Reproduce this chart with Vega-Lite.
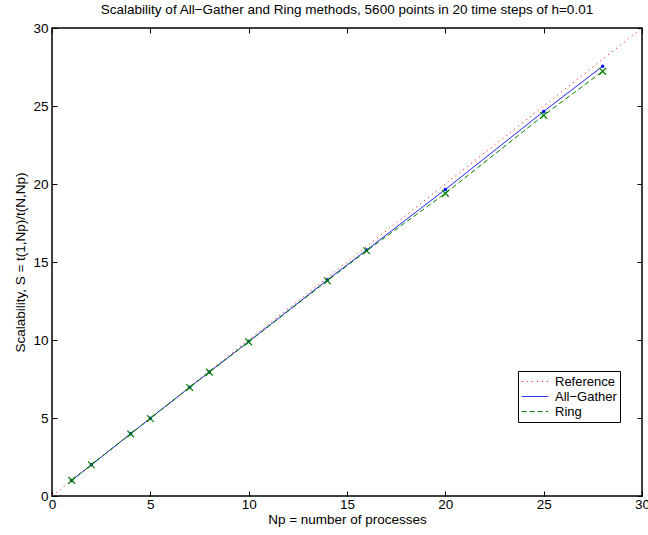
{
  "$schema": "https://vega.github.io/schema/vega-lite/v6.json",
  "autosize": "none",
  "width": 590,
  "height": 468,
  "padding": {"left": 52, "top": 28, "right": 6, "bottom": 39},
  "background": "white",
  "config": {
    "font": "Liberation Sans",
    "view": {"stroke": "black", "strokeWidth": 1.5},
    "axis": {"grid": false, "domainColor": "black", "tickColor": "black", "labelColor": "black", "titleColor": "black", "labelFontSize": 13.5, "titleFontSize": 13.5, "titleFontWeight": "normal", "labelFont": "Liberation Sans", "titleFont": "Liberation Sans"},
    "legend": {"title": null, "orient": "none", "legendX": 466, "legendY": 343, "symbolType": "stroke", "symbolSize": 700, "symbolStrokeWidth": 1, "strokeColor": "black", "fillColor": "white", "padding": 3, "labelFontSize": 13, "labelFont": "Liberation Sans", "labelColor": "black", "rowPadding": 0, "clipHeight": 15, "labelOffset": 6, "cornerRadius": 0}
  },
  "title": {"text": "Scalability of All−Gather and Ring methods, 5600 points in 20 time steps of h=0.01", "fontSize": 13.5, "fontWeight": "normal", "font": "Liberation Sans", "color": "black", "offset": 5},
  "datasets": {
    "lines": [
      {"np": 0, "s": 0, "series": "Reference"},
      {"np": 30, "s": 30, "series": "Reference"},
      {"np": 1, "s": 1.0, "series": "All−Gather"},
      {"np": 2, "s": 2.0, "series": "All−Gather"},
      {"np": 4, "s": 3.99, "series": "All−Gather"},
      {"np": 5, "s": 4.98, "series": "All−Gather"},
      {"np": 7, "s": 6.97, "series": "All−Gather"},
      {"np": 8, "s": 7.95, "series": "All−Gather"},
      {"np": 10, "s": 9.9, "series": "All−Gather"},
      {"np": 14, "s": 13.85, "series": "All−Gather"},
      {"np": 16, "s": 15.77, "series": "All−Gather"},
      {"np": 20, "s": 19.65, "series": "All−Gather"},
      {"np": 25, "s": 24.65, "series": "All−Gather"},
      {"np": 28, "s": 27.55, "series": "All−Gather"},
      {"np": 1, "s": 1.0, "series": "Ring"},
      {"np": 2, "s": 2.0, "series": "Ring"},
      {"np": 4, "s": 3.98, "series": "Ring"},
      {"np": 5, "s": 4.97, "series": "Ring"},
      {"np": 7, "s": 6.96, "series": "Ring"},
      {"np": 8, "s": 7.94, "series": "Ring"},
      {"np": 10, "s": 9.88, "series": "Ring"},
      {"np": 14, "s": 13.8, "series": "Ring"},
      {"np": 16, "s": 15.72, "series": "Ring"},
      {"np": 20, "s": 19.4, "series": "Ring"},
      {"np": 25, "s": 24.4, "series": "Ring"},
      {"np": 28, "s": 27.22, "series": "Ring"}
    ]
  },
  "resolve": {"axis": {"x": "independent", "y": "independent"}},
  "layer": [
    {
      "data": {"name": "lines"},
      "mark": {"type": "line", "strokeWidth": 1, "clip": true},
      "encoding": {
        "x": {"field": "np", "type": "quantitative", "scale": {"domain": [0, 30], "nice": false, "zero": false}, "axis": {"title": "Np = number of processes", "values": [0, 5, 10, 15, 20, 25, 30], "tickSize": -5, "labelPadding": 6, "titlePadding": 2, "domain": false, "labelFlush": false}},
        "y": {"field": "s", "type": "quantitative", "scale": {"domain": [0, 30], "nice": false, "zero": false}, "axis": {"title": "Scalability, S = t(1,Np)/t(N,Np)", "values": [0, 5, 10, 15, 20, 25, 30], "tickSize": -5, "labelPadding": 9, "titlePadding": 5, "domain": false, "labelFlush": false}},
        "color": {"field": "series", "type": "nominal", "scale": {"domain": ["Reference", "All−Gather", "Ring"], "range": ["#ff0000", "#0000ff", "#008000"]}},
        "strokeDash": {"field": "series", "type": "nominal", "scale": {"domain": ["Reference", "All−Gather", "Ring"], "range": [[1, 4], [1, 0], [5, 3]]}},
        "order": {"field": "np", "type": "quantitative"}
      }
    },
    {
      "data": {"name": "lines"},
      "transform": [{"filter": "datum.series === 'All−Gather'"}],
      "mark": {"type": "point", "filled": true, "size": 12, "color": "#0000ff", "opacity": 1},
      "encoding": {
        "x": {"field": "np", "type": "quantitative", "scale": {"domain": [0, 30], "nice": false, "zero": false}, "axis": {"orient": "top", "values": [0, 5, 10, 15, 20, 25, 30], "tickSize": -5, "labels": false, "domain": false, "title": null}},
        "y": {"field": "s", "type": "quantitative", "scale": {"domain": [0, 30], "nice": false, "zero": false}, "axis": {"orient": "right", "values": [0, 5, 10, 15, 20, 25, 30], "tickSize": -5, "labels": false, "domain": false, "title": null}}
      }
    },
    {
      "data": {"name": "lines"},
      "transform": [{"filter": "datum.series === 'Ring'"}],
      "mark": {"type": "point", "shape": "M-1,-1L1,1M-1,1L1,-1", "filled": false, "size": 45, "color": "#008000", "strokeWidth": 1.2, "opacity": 1},
      "encoding": {
        "x": {"field": "np", "type": "quantitative", "scale": {"domain": [0, 30], "nice": false, "zero": false}, "axis": null},
        "y": {"field": "s", "type": "quantitative", "scale": {"domain": [0, 30], "nice": false, "zero": false}, "axis": null}
      }
    }
  ]
}
